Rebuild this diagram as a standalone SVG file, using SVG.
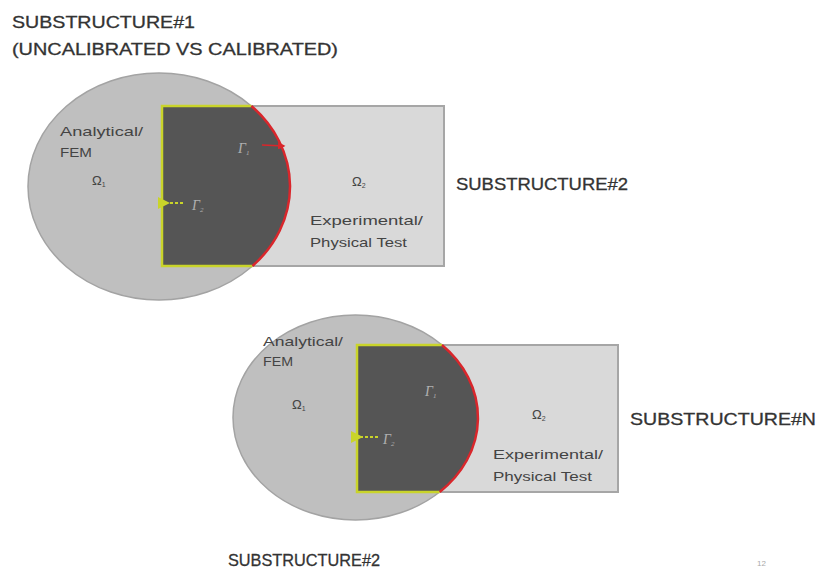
<svg xmlns="http://www.w3.org/2000/svg" width="818" height="572" viewBox="0 0 818 572">
<style>
.ell{fill:#bfbfbf;stroke:#a3a3a3;stroke-width:1.5}
.lrect{fill:#d9d9d9;stroke:#a6a6a6;stroke-width:2}
.dark{fill:#555555}
.yel{fill:none;stroke:#c9d42a;stroke-width:2.5}
.red{fill:none;stroke:#d9262b;stroke-width:2.5}
.h{font-family:"Liberation Sans",Arial,sans-serif;font-size:17px;fill:#333;stroke:#333;stroke-width:0.3}
.t{font-family:"Liberation Sans",Arial,sans-serif;font-size:13px;fill:#444}
.g{font-family:"Liberation Serif",serif;font-style:italic;font-size:14px;fill:#b0b0b0}
.o{font-family:"Liberation Sans",Arial,sans-serif;font-size:13px;fill:#444}
</style>
<defs>
<clipPath id="c1"><ellipse cx="159" cy="186.5" rx="131" ry="113.5"/></clipPath>
<clipPath id="c2"><ellipse cx="355.5" cy="417.5" rx="122.5" ry="102.5"/></clipPath>
<marker id="ya" markerWidth="6" markerHeight="6" refX="1" refY="3" orient="auto"><path d="M6,0 L0,3 L6,6 Z" fill="#c9d42a"/></marker>
<marker id="ra" markerWidth="5" markerHeight="5" refX="4" refY="2.5" orient="auto"><path d="M0,0 L5,2.5 L0,5 Z" fill="#d9262b"/></marker>
</defs>
<g id="title">
<text class="h" x="12" y="28" textLength="183" lengthAdjust="spacingAndGlyphs">SUBSTRUCTURE#1</text>
<text class="h" x="12" y="55" textLength="326" lengthAdjust="spacingAndGlyphs">(UNCALIBRATED VS CALIBRATED)</text>
</g>
<g id="sub1">
<ellipse class="ell" cx="159" cy="186.5" rx="131" ry="113.5"/>
<rect class="lrect" x="162" y="106" width="282" height="160"/>
<rect class="dark" x="162" y="106" width="140" height="160" clip-path="url(#c1)"/>
<path class="yel" d="M251.4,106 H162 V266 H252.5"/>
<path class="red" d="M251.4,106 A131,113.5 0 0 1 252.5,266"/>
<text class="t" x="60" y="136" textLength="83" lengthAdjust="spacingAndGlyphs">Analytical/</text>
<text class="t" x="60" y="157" textLength="32" lengthAdjust="spacingAndGlyphs">FEM</text>
<text class="o" x="92" y="185">Ω<tspan font-size="7" dy="2">1</tspan></text>
<text class="o" x="352" y="186">Ω<tspan font-size="7" dy="2">2</tspan></text>
<text class="t" x="310" y="225" textLength="113" lengthAdjust="spacingAndGlyphs">Experimental/</text>
<text class="t" x="310" y="247" textLength="97" lengthAdjust="spacingAndGlyphs">Physical Test</text>
<text class="g" x="238" y="153">Γ<tspan font-size="7" dy="2">1</tspan></text>
<text class="g" x="192" y="210">Γ<tspan font-size="7" dy="2">2</tspan></text>
</g>
<g id="sub2">
<ellipse class="ell" cx="355.5" cy="417.5" rx="122.5" ry="102.5"/>
<rect class="lrect" x="357" y="345" width="261" height="147"/>
<rect class="dark" x="357" y="345" width="130" height="147" clip-path="url(#c2)"/>
<path class="yel" d="M442,345 H357 V492 H439.7"/>
<path class="red" d="M442,345 A122.5,102.5 0 0 1 439.7,492"/>
<text class="t" x="263" y="346" textLength="80" lengthAdjust="spacingAndGlyphs">Analytical/</text>
<text class="t" x="263" y="366" textLength="30" lengthAdjust="spacingAndGlyphs">FEM</text>
<text class="o" x="292" y="409">Ω<tspan font-size="7" dy="2">1</tspan></text>
<text class="o" x="532" y="419">Ω<tspan font-size="7" dy="2">2</tspan></text>
<text class="t" x="493" y="459" textLength="110" lengthAdjust="spacingAndGlyphs">Experimental/</text>
<text class="t" x="493" y="481" textLength="99" lengthAdjust="spacingAndGlyphs">Physical Test</text>
<text class="g" x="425" y="396">Γ<tspan font-size="7" dy="2">1</tspan></text>
<text class="g" x="383" y="444">Γ<tspan font-size="7" dy="2">2</tspan></text>
</g>
<g id="connectors">
<line x1="183" y1="203" x2="168" y2="203" stroke="#c9d42a" stroke-width="2" stroke-dasharray="3,2" marker-end="url(#ya)"/>
<line x1="262" y1="145" x2="284" y2="146" stroke="#d9262b" stroke-width="1.5" marker-end="url(#ra)"/>
<line x1="378" y1="437" x2="361" y2="437" stroke="#c9d42a" stroke-width="2" stroke-dasharray="3,2" marker-end="url(#ya)"/>
</g>
<g id="labels">
<text class="h" x="456" y="190" textLength="172" lengthAdjust="spacingAndGlyphs">SUBSTRUCTURE#2</text>
<text class="h" x="630" y="425" textLength="186" lengthAdjust="spacingAndGlyphs">SUBSTRUCTURE#N</text>
<text class="h" x="228" y="566" textLength="152" lengthAdjust="spacingAndGlyphs">SUBSTRUCTURE#2</text>
<text x="757" y="566" font-family="Liberation Sans,Arial,sans-serif" font-size="8" fill="#aaa">12</text>
</g>
</svg>
